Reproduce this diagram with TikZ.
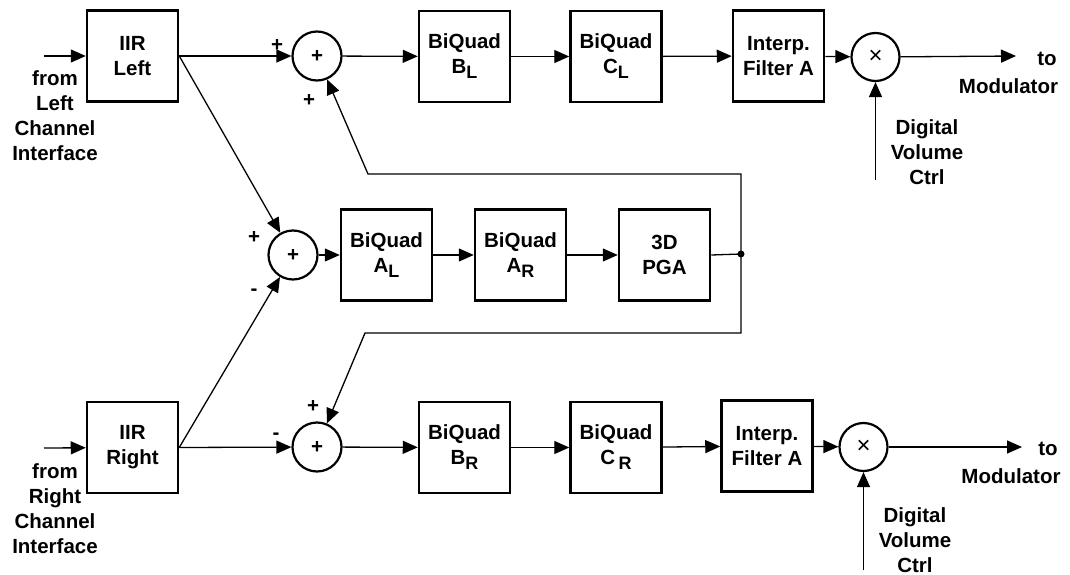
\documentclass[tikz,border=0pt]{standalone}
\usepackage{fontspec}
\setmainfont{Liberation Sans}
\usetikzlibrary{arrows.meta}
\begin{document}
\begin{tikzpicture}[x=1pt,y=-1pt,
  every node/.style={font=\fontsize{20.5}{25}\selectfont\bfseries, align=center},
  blk/.style={draw, line width=2.5pt, minimum width=91pt, minimum height=91pt, inner sep=0pt},
  sumc/.style={draw, circle, line width=2.2pt, minimum size=49pt, inner sep=0pt},
  lbl/.style={inner sep=0pt},
  conn/.style={line width=1.3pt, -{Triangle[length=15pt,width=13pt]}},
  wire/.style={line width=1.3pt}]
\useasboundingbox (0,0) rectangle (1070,575);
% top row
\node[blk] (iirl) at (132.5,56) {IIR\\Left};
\node[sumc] (sumt) at (317,56) {+};
\node[blk] (bl) at (464.5,56.5) {BiQuad\\B\raisebox{-5pt}{\fontsize{18}{18}\selectfont L}};
\node[blk] (cl) at (616,56.5) {BiQuad\\C\raisebox{-5pt}{\fontsize{18}{18}\selectfont L}};
\node[blk] (inta) at (778.5,56) {Interp.\\Filter A};
\node[sumc, minimum size=48pt] (mult) at (875.5,57) {\fontsize{24}{24}\selectfont\mdseries ×};
% middle row
\node[sumc] (summ) at (293,255) {+};
\node[blk] (al) at (386.5,255) {BiQuad\\A\raisebox{-5pt}{\fontsize{18}{18}\selectfont L}};
\node[blk] (ar) at (520.5,255) {BiQuad\\A\raisebox{-5pt}{\fontsize{18}{18}\selectfont R}};
\node[blk] (pga) at (664.5,255) {3D\\PGA};
% bottom row
\node[blk] (iirr) at (132.5,447.5) {IIR\\Right};
\node[sumc] (sumb) at (317,447) {+};
\node[blk] (br) at (464.5,447.5) {BiQuad\\B\raisebox{-5pt}{\fontsize{18}{18}\selectfont R}};
\node[blk] (cr) at (616,447.5) {BiQuad\\C\,\raisebox{-5pt}{\fontsize{18}{18}\selectfont R}};
\node[blk] (intb) at (767,446) {Interp.\\Filter A};
\node[sumc, minimum size=48pt] (mulb) at (863.5,447) {\fontsize{24}{24}\selectfont\mdseries ×};
% coordinates
\coordinate (inl) at (44,56);
\coordinate (inr) at (44,448);
\coordinate (outt) at (1016,56);
\coordinate (outb) at (1022,447);
\coordinate (volt) at (875.5,180);
\coordinate (volb) at (863.5,570);
\coordinate (dot) at (741,254);
\coordinate (fbt1) at (741,174);
\coordinate (fbt2) at (368,174);
\coordinate (fbb1) at (741,333);
\coordinate (fbb2) at (365,333);
\fill (dot) circle (3.5pt);
% labels
\node[lbl] (ltxt) at (55,115.5) {from\\Left\\Channel\\Interface};
\node[lbl] (rtxt) at (55,508.5) {from\\Right\\Channel\\Interface};
\node[lbl] (tot) at (1047,59) {to};
\node[lbl] (modt) at (1008.5,86) {Modulator};
\node[lbl] (tob) at (1048,449) {to};
\node[lbl] (modb) at (1011,476) {Modulator};
\node[lbl] (dvt) at (927,152) {Digital\\Volume\\Ctrl};
\node[lbl] (dvb) at (915,540) {Digital\\Volume\\Ctrl};
\node[lbl] (p1) at (277,45) {+};
\node[lbl] (p2) at (309,100) {+};
\node[lbl] (p3) at (254,237) {+};
\node[lbl] (m1) at (254,292) {-};
\node[lbl] (p4) at (313,406) {+};
\node[lbl] (m2) at (276,436) {-};
% connectors
\draw[conn] (inl) -- (iirl);
\draw[conn] (iirl.east) -- (sumt);
\draw[conn] (iirl.east) -- (summ);
\draw[conn] (sumt) -- (bl);
\draw[conn] (bl) -- (cl);
\draw[conn] (cl) -- (inta);
\draw[conn] (inta) -- (mult);
\draw[conn] (mult) -- (outt);
\draw[conn] (volt) -- (mult);
\draw[conn] (summ) -- (al);
\draw[conn] (al) -- (ar);
\draw[conn] (ar) -- (pga);
\draw[wire] (pga.east) -- (dot);
\draw[conn] (dot) -- (fbt1) -- (fbt2) -- (sumt);
\draw[conn] (dot) -- (fbb1) -- (fbb2) -- (sumb);
\draw[conn] (inr) -- (iirr);
\draw[conn] (iirr.east) -- (sumb);
\draw[conn] (iirr.east) -- (summ);
\draw[conn] (sumb) -- (br);
\draw[conn] (br) -- (cr);
\draw[conn] (cr) -- (intb);
\draw[conn] (intb) -- (mulb);
\draw[conn] (mulb) -- (outb);
\draw[conn] (volb) -- (mulb);
\end{tikzpicture}
\end{document}
